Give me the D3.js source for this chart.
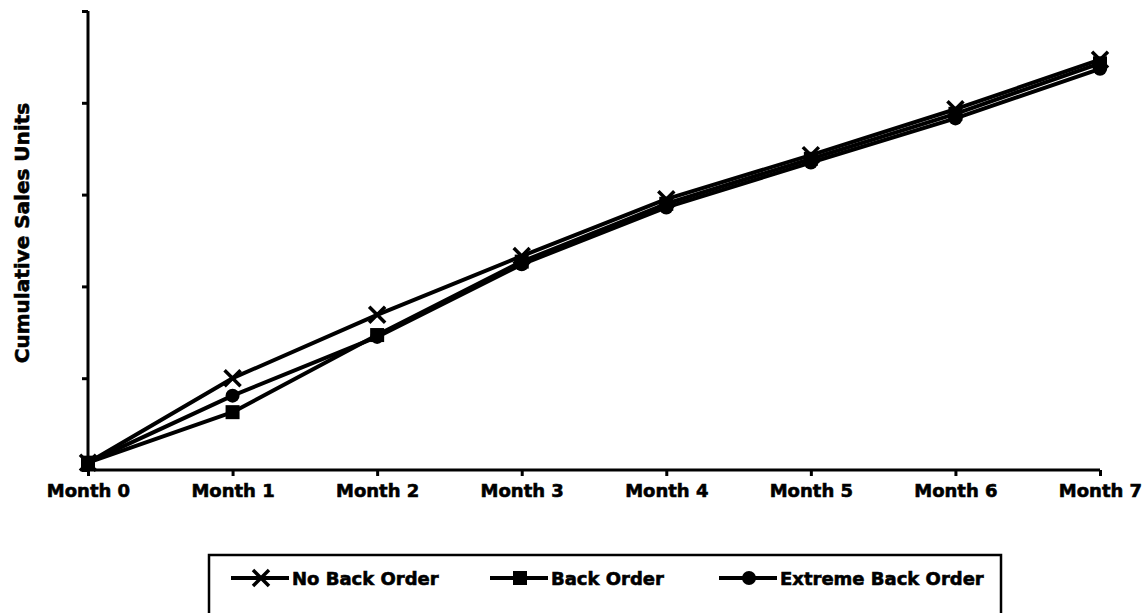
<html>
  <head>
    <script src="https://cdnjs.cloudflare.com/ajax/libs/d3/7.8.5/d3.min.js"></script>
    <style>
    body { margin: 0; background: white; }
    svg { background-color: white; }
    text {
      font-family: "DejaVu Sans", sans-serif;
      font-weight: bold;
      fill: black;
      stroke: black;
      stroke-width: 0.6;
    }
    .axis path, .axis line { stroke: black; stroke-width: 3; }
    </style>
  </head>
  <body>
    <svg width="1144" height="613" id="chart"></svg>
    <script>
    var months = ['Month 0', 'Month 1', 'Month 2', 'Month 3', 'Month 4', 'Month 5', 'Month 6', 'Month 7'];
    var noBackOrder      = [0.08, 1.00, 1.69, 2.33, 2.95, 3.43, 3.93, 4.47];
    var backOrder        = [0.08, 0.63, 1.47, 2.27, 2.90, 3.39, 3.88, 4.43];
    var extremeBackOrder = [0.08, 0.81, 1.45, 2.24, 2.86, 3.35, 3.83, 4.37];
    var yTicks = [0, 1, 2, 3, 4, 5];

    var series = [
      {name: 'No Back Order', values: noBackOrder, marker: 'x'},
      {name: 'Back Order', values: backOrder, marker: 'square'},
      {name: 'Extreme Back Order', values: extremeBackOrder, marker: 'circle'}
    ];

    var svg = d3.select('#chart');
    var x = d3.scalePoint().domain(months).range([88, 1100]);
    var y = d3.scaleLinear().domain([0, 5]).range([470, 11]);

    // axes
    svg.append('g')
      .attr('class', 'axis')
      .attr('transform', 'translate(88,0)')
      .call(d3.axisLeft(y).tickValues(yTicks).tickSize(6).tickFormat('').tickSizeOuter(0))
      .select('.domain').attr('d', 'M0,' + y(5) + 'V' + y(0));

    var xAxis = svg.append('g')
      .attr('class', 'axis')
      .attr('transform', 'translate(0,' + y(0) + ')')
      .call(d3.axisBottom(x).tickSize(6).tickSizeOuter(0));
    xAxis.select('.domain').attr('d', 'M' + x(months[0]) + ',0H' + x(months[7]));
    xAxis.selectAll('text')
      .attr('dy', 0)
      .attr('y', 27)
      .style('font-size', '18px')
      .style('font-family', '"DejaVu Sans", sans-serif');

    svg.append('text')
      .attr('transform', 'translate(29,233) rotate(-90)')
      .attr('text-anchor', 'middle')
      .style('font-size', '20px')
      .text('Cumulative Sales Units');

    var line = d3.line()
      .x(function(d, i) { return x(months[i]); })
      .y(function(d) { return y(d); });

    function drawMarker(g, type) {
      if (type === 'x') {
        g.append('path').attr('d', 'M-8,-8L8,8M-8,8L8,-8')
          .attr('stroke', 'black').attr('stroke-width', 3.5);
      } else if (type === 'square') {
        g.append('rect').attr('x', -7).attr('y', -7).attr('width', 14).attr('height', 14)
          .attr('fill', 'black');
      } else {
        g.append('circle').attr('r', 7).attr('fill', 'black');
      }
    }

    series.slice().reverse().forEach(function(s) {
      svg.append('path')
        .datum(s.values)
        .attr('d', line)
        .attr('fill', 'none')
        .attr('stroke', 'black')
        .attr('stroke-width', 4)
        .attr('stroke-linejoin', 'round');
    });

    series.slice().reverse().forEach(function(s) {
      svg.selectAll(null)
        .data(s.values)
        .enter()
        .append('g')
        .attr('transform', function(d, i) {
          return 'translate(' + x(months[i]) + ',' + y(d) + ')';
        })
        .each(function() { drawMarker(d3.select(this), s.marker); });
    });

    // legend
    var legend = svg.append('g');
    legend.append('rect')
      .attr('x', 209).attr('y', 555).attr('width', 792).attr('height', 70)
      .attr('fill', 'none').attr('stroke', 'black').attr('stroke-width', 2.5);

    var legendX = [231, 490, 719];
    series.forEach(function(s, i) {
      var item = legend.append('g').attr('transform', 'translate(' + legendX[i] + ',578)');
      item.append('line').attr('x1', 0).attr('x2', 58).attr('y1', 0).attr('y2', 0)
        .attr('stroke', 'black').attr('stroke-width', 4);
      var m = item.append('g').attr('transform', 'translate(30,0)');
      drawMarker(m, s.marker);
      item.append('text')
        .attr('x', 61).attr('y', 7)
        .style('font-size', '18px')
        .text(s.name);
    });
    </script>
  </body>
</html>
